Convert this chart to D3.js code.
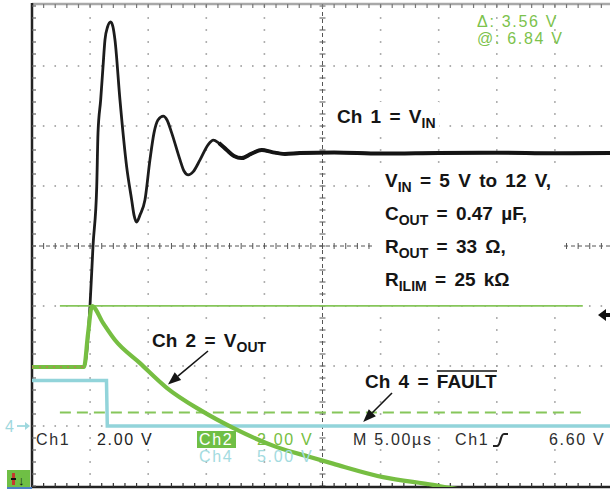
<!DOCTYPE html>
<html>
<head>
<meta charset="utf-8">
<script src="https://cdn.jsdelivr.net/npm/d3@7"></script>
<style>
  body { margin: 0; background: #fff; }
  svg { display: block; }
  .scope { font-family: "Liberation Sans", Arial, sans-serif; font-size: 16px; letter-spacing: 1.7px; }
  .note { font-family: "Liberation Sans", Arial, sans-serif; font-weight: bold; font-size: 19px; word-spacing: 3px; fill: #151515; }
</style>
</head>
<body>
<div id="scope"></div>
<script>
// time in microseconds, values in volts
var ch1Time = [0, 4.48, 4.99, 5.25, 5.57, 5.68, 5.91, 6.11, 6.28, 6.5, 6.77, 6.97, 7.14, 7.57, 8.15, 8.58, 8.78, 9.01, 9.29, 9.72, 10.15, 10.5, 10.84, 11.3, 11.62, 12.02, 12.74, 13.08, 13.45, 13.86, 14.46, 15.15, 15.6, 16.09, 16.76, 17.38, 18.05, 18.85, 19.77, 20.65, 21.77, 23.06, 26, 30, 35, 40, 45, 50];
var ch1Volts = [4.87, 4.87, 6.9, 8.9, 10.87, 12.67, 13.77, 14.87, 15.77, 16.2, 16.37, 16.2, 15.77, 13.77, 11.53, 10.43, 9.93, 9.7, 9.93, 10.43, 11.77, 12.67, 13.1, 13.23, 13.1, 12.67, 11.77, 11.4, 11.27, 11.37, 11.77, 12.27, 12.43, 12.33, 12.1, 11.9, 11.83, 11.97, 12.1, 12.03, 11.97, 12.0, 12.02, 11.98, 12.0, 12.01, 11.99, 12.0];

var ch2Time = [0, 4.48, 4.82, 5.16, 6.11, 7.14, 9.29, 11.62, 14.46, 17.3, 21.08, 23.92, 25.9, 30.21, 34.51, 35.97, 38.55, 42, 46, 50];
var ch2Volts = [4.8, 4.8, 5.9, 6.83, 6.27, 5.7, 4.93, 4.1, 3.37, 2.77, 2.13, 1.8, 1.58, 1.13, 0.87, 0.77, 0.63, 0.47, 0.33, 0.2];

var ch4Time = [0, 6.41, 6.48, 50];
var ch4Volts = [3.8, 3.8, 0, 0];

// channel setup: volts per division and ground position in divisions
var channels = ["Ch1", "Ch2", "Ch4"];
var voltsPerDiv = [2, 2, 5];
var groundDiv = [-4.45, -4.417, -3];
var timePerDiv = 5;

// Ch2 cursors (V) and Ch1 trigger level (V)
var cursorVolts = [6.84, 3.28];
var cursorSpan = [2.4, 47.4];
var triggerLevel = 6.6;

var readoutTop = ["\u0394: 3.56 V", "@: 6.84 V"];

var svgWidth = 610;
var svgHeight = 492;

var svg = d3.select("#scope").append("svg")
  .attr("width", svgWidth)
  .attr("height", svgHeight);

var xDiv = d3.scaleLinear().domain([0, 10]).range([32, 613]);
var yDiv = d3.scaleLinear().domain([-4, 4]).range([486, 6]);
var xTime = d3.scaleLinear().domain([0, 10 * timePerDiv]).range(xDiv.range());

function yVolts(ch, v) {
  var i = channels.indexOf(ch);
  return yDiv(v / voltsPerDiv[i] + groundDiv[i]);
}

svg.append("defs").append("clipPath").attr("id", "screen")
  .append("rect").attr("x", 32).attr("y", 5).attr("width", 578).attr("height", 482);

// grid dots
var grid = svg.append("g").attr("fill", "#9c9c9c");
var subs = d3.range(0, 51).map(function (k) { return k * 0.2; });
[1, 2, 3, 4, 6, 7, 8, 9].forEach(function (i) {
  grid.selectAll(null).data(d3.range(-20, 21)).enter().append("rect")
    .attr("x", xDiv(i) - 0.8).attr("y", function (k) { return yDiv(k * 0.2) - 0.8; })
    .attr("width", 1.6).attr("height", 1.6);
});
[-3, -2, -1, 1, 2, 3].forEach(function (j) {
  grid.selectAll(null).data(subs).enter().append("rect")
    .attr("x", function (d) { return xDiv(d) - 0.8; }).attr("y", yDiv(j) - 0.8)
    .attr("width", 1.6).attr("height", 1.6);
});

// center crosshair
var cross = svg.append("g").attr("stroke", "#555").attr("stroke-width", 1);
cross.append("line").attr("x1", 32).attr("x2", 613).attr("y1", yDiv(0)).attr("y2", yDiv(0))
  .attr("stroke-dasharray", "4,3");
cross.append("line").attr("x1", xDiv(5)).attr("x2", xDiv(5)).attr("y1", 5).attr("y2", 487)
  .attr("stroke-dasharray", "4,3");
cross.selectAll(null).data(subs).enter().append("line")
  .attr("x1", function (d) { return xDiv(d); }).attr("x2", function (d) { return xDiv(d); })
  .attr("y1", yDiv(0) - 3).attr("y2", yDiv(0) + 3);
cross.selectAll(null).data(d3.range(-20, 21)).enter().append("line")
  .attr("x1", xDiv(5) - 3).attr("x2", xDiv(5) + 3)
  .attr("y1", function (k) { return yDiv(k * 0.2); }).attr("y2", function (k) { return yDiv(k * 0.2); });

// borders with minor ticks
var border = svg.append("g");
border.append("line").attr("x1", 32).attr("x2", 610).attr("y1", 4).attr("y2", 4)
  .attr("stroke", "#a8a8a8").attr("stroke-width", 2.5);
border.selectAll(null).data(subs).enter().append("line")
  .attr("x1", function (d) { return xDiv(d); }).attr("x2", function (d) { return xDiv(d); })
  .attr("y1", 4).attr("y2", 8).attr("stroke", "#777").attr("stroke-width", 1.2);
border.append("line").attr("x1", 32).attr("x2", 610).attr("y1", 487).attr("y2", 487)
  .attr("stroke", "#222").attr("stroke-width", 2.5);
border.selectAll(null).data(subs).enter().append("line")
  .attr("x1", function (d) { return xDiv(d); }).attr("x2", function (d) { return xDiv(d); })
  .attr("y1", 487).attr("y2", 483).attr("stroke", "#333").attr("stroke-width", 1.2);
border.append("line").attr("x1", 32).attr("x2", 32).attr("y1", 3).attr("y2", 488)
  .attr("stroke", "#222").attr("stroke-width", 2.5);
border.selectAll(null).data(d3.range(-20, 21)).enter().append("line")
  .attr("x1", 32).attr("x2", 36)
  .attr("y1", function (k) { return yDiv(k * 0.2); }).attr("y2", function (k) { return yDiv(k * 0.2); })
  .attr("stroke", "#666").attr("stroke-width", 1.2);

// white panels behind the annotations
var panels = svg.append("g").attr("fill", "#fff");

var traces = svg.append("g").attr("clip-path", "url(#screen)").attr("fill", "none");

function tracePath(ch, times, volts, curve) {
  return d3.line()
    .x(function (d, i) { return xTime(times[i]); })
    .y(function (d, i) { return yVolts(ch, volts[i]); })
    .curve(curve)(volts);
}

// Ch1
traces.append("path")
  .attr("d", tracePath("Ch1", ch1Time, ch1Volts, d3.curveMonotoneX))
  .attr("stroke", "#1c1c1c").attr("stroke-width", 2.8);
var settled = ch1Time.map(function (t, i) { return i; }).filter(function (i) { return ch1Time[i] >= 16; });
traces.append("path")
  .attr("d", tracePath("Ch1", settled.map(function (i) { return ch1Time[i]; }), settled.map(function (i) { return ch1Volts[i]; }), d3.curveMonotoneX))
  .attr("stroke", "#141414").attr("stroke-width", 4);

// Ch4
traces.append("path")
  .attr("d", tracePath("Ch4", ch4Time, ch4Volts, d3.curveLinear))
  .attr("stroke", "#92d4da").attr("stroke-width", 3.5);

// Ch2 cursors
traces.append("line")
  .attr("x1", xTime(cursorSpan[0])).attr("x2", xTime(cursorSpan[1]))
  .attr("y1", yVolts("Ch2", cursorVolts[0])).attr("y2", yVolts("Ch2", cursorVolts[0]))
  .attr("stroke", "#86c65a").attr("stroke-width", 1.8);
traces.append("line")
  .attr("x1", xTime(cursorSpan[0])).attr("x2", xTime(cursorSpan[1]))
  .attr("y1", yVolts("Ch2", cursorVolts[1])).attr("y2", yVolts("Ch2", cursorVolts[1]))
  .attr("stroke", "#86c65a").attr("stroke-width", 2).attr("stroke-dasharray", "11,6");

// Ch2
traces.append("path")
  .attr("d", tracePath("Ch2", ch2Time, ch2Volts, d3.curveMonotoneX))
  .attr("stroke", "#76be42").attr("stroke-width", 4.2);
traces.append("path")
  .attr("d", tracePath("Ch2", ch2Time.slice(0, 2), ch2Volts.slice(0, 2), d3.curveLinear))
  .attr("stroke", "#d46a5a").attr("stroke-width", 1.2).attr("stroke-dasharray", "2,5");

// trigger level marker (right edge)
var ty = yVolts("Ch1", triggerLevel);
svg.append("path")
  .attr("d", "M598," + ty + " L606," + (ty - 6) + " L606," + (ty - 2) + " L610," + (ty - 2) +
    " L610," + (ty + 2) + " L606," + (ty + 2) + " L606," + (ty + 6) + " Z")
  .attr("fill", "#111");

// Ch4 ground marker
var gy = yVolts("Ch4", 0);
svg.append("text").attr("class", "scope")
  .attr("x", 5).attr("y", gy + 6)
  .attr("font-size", 17).attr("letter-spacing", 0)
  .attr("fill", "#9fd8de").text("4");
svg.append("line").attr("x1", 17).attr("x2", 27).attr("y1", gy).attr("y2", gy)
  .attr("stroke", "#9fd8de").attr("stroke-width", 1.8);
svg.append("path").attr("d", "M30," + gy + " L25," + (gy - 4) + " L25," + (gy + 4) + " Z")
  .attr("fill", "#9fd8de");

// bottom-left status icon
svg.append("rect").attr("x", 7).attr("y", 470).attr("width", 23).attr("height", 17).attr("fill", "#6fbf45");
svg.append("rect").attr("x", 7).attr("y", 487).attr("width", 25).attr("height", 2).attr("fill", "#4c7fc4");
svg.append("rect").attr("x", 12).attr("y", 473).attr("width", 3).attr("height", 12).attr("fill", "#c43a2e");
svg.append("rect").attr("x", 11).attr("y", 478).attr("width", 5).attr("height", 2).attr("fill", "#111");
svg.append("text").attr("x", 18).attr("y", 485).attr("font-size", 13)
  .attr("font-family", "Liberation Sans, Arial, sans-serif").attr("font-weight", "bold")
  .attr("fill", "#111").text("\u2193");

// top-right cursor readout
svg.selectAll(".readout").data(readoutTop).enter().append("text")
  .attr("class", "scope readout")
  .attr("x", 477).attr("y", function (d, i) { return 27 + i * 17; })
  .attr("font-size", 17).attr("letter-spacing", 1.8)
  .attr("fill", "#7cc24c").text(function (d) { return d; });

// bottom readouts
var bottom = svg.append("g").attr("class", "scope");
bottom.append("text").attr("x", 36).attr("y", 445).attr("fill", "#2e2e2e").text("Ch1");
bottom.append("text").attr("x", 97).attr("y", 445).attr("fill", "#1e1e1e").text("2.00 V");
bottom.append("rect").attr("x", 197).attr("y", 431).attr("width", 39).attr("height", 17).attr("fill", "#6fbf45");
bottom.append("text").attr("x", 199).attr("y", 445).attr("fill", "#fff").text("Ch2");
bottom.append("text").attr("x", 257).attr("y", 445).attr("fill", "#76be42").text("2.00 V");
bottom.append("text").attr("x", 199).attr("y", 462).attr("fill", "#a3dbe0").text("Ch4");
bottom.append("text").attr("x", 257).attr("y", 462).attr("fill", "#a3dbe0").text("5.00 V");
bottom.append("text").attr("x", 353).attr("y", 445).attr("fill", "#2e2e2e").text("M 5.00\u00b5s");
bottom.append("text").attr("x", 455).attr("y", 445).attr("fill", "#2e2e2e").text("Ch1");
bottom.append("path").attr("d", "M493,446 L497,446 C501,446 500,434 504,434 L508,434")
  .attr("fill", "none").attr("stroke", "#222").attr("stroke-width", 2.2);
bottom.append("text").attr("x", 549).attr("y", 445).attr("fill", "#2e2e2e").text("6.60 V");

// annotations
function note(x, y, parts) {
  var t = svg.append("text").attr("class", "note").attr("x", x).attr("y", y);
  parts.forEach(function (p) {
    var s = t.append("tspan").text(p[0]);
    if (p[1] === "sub") s.attr("font-size", 14).attr("dy", 5);
    if (p[1] === "up") s.attr("dy", -5);
  });
  return t;
}

function panelFor(t, pad) {
  var b = t.node().getBBox();
  panels.append("rect").attr("x", b.x - pad).attr("y", b.y - pad)
    .attr("width", b.width + 2 * pad).attr("height", b.height + 2 * pad);
}

var n1 = note(337, 123, [["Ch 1 = V"], ["IN", "sub"]]);
panelFor(n1, 4);

var params = [
  [["V"], ["IN", "sub"], [" = 5 V to 12 V,", "up"]],
  [["C"], ["OUT", "sub"], [" = 0.47 \u00b5F,", "up"]],
  [["R"], ["OUT", "sub"], [" = 33 \u03a9,", "up"]],
  [["R"], ["ILIM", "sub"], [" = 25 k\u03a9", "up"]]
];
params.forEach(function (p, i) { note(385, 187 + i * 33, p); });
panels.append("rect").attr("x", 372).attr("y", 165).attr("width", 191).attr("height", 130);

var n2 = note(152, 347, [["Ch 2 = V"], ["OUT", "sub"]]);
n2.attr("word-spacing", 5);
panelFor(n2, 3);

var n4 = note(365, 388, [["Ch 4 = "], ["FAULT"]]);
var fb = n4.select("tspan:nth-child(2)").node().getBBox();
svg.append("line").attr("x1", fb.x).attr("x2", fb.x + fb.width)
  .attr("y1", 371).attr("y2", 371).attr("stroke", "#151515").attr("stroke-width", 1.6);
panelFor(n4, 2);

// arrows
function arrow(x1, y1, x2, y2) {
  var a = Math.atan2(y2 - y1, x2 - x1);
  var len = 13, w = 5;
  var bx = x2 - len * Math.cos(a), by = y2 - len * Math.sin(a);
  svg.append("line").attr("x1", x1).attr("y1", y1).attr("x2", bx).attr("y2", by)
    .attr("stroke", "#151515").attr("stroke-width", 1.6);
  svg.append("path")
    .attr("d", "M" + x2 + "," + y2 +
      " L" + (bx + w * Math.sin(a)) + "," + (by - w * Math.cos(a)) +
      " L" + (bx - w * Math.sin(a)) + "," + (by + w * Math.cos(a)) + " Z")
    .attr("fill", "#151515");
}
arrow(208, 351, xTime(11.7), yVolts("Ch2", 4.15) - 2);
arrow(392, 393, xTime(28.5), yVolts("Ch4", 0) - 4);
</script>
</body>
</html>
